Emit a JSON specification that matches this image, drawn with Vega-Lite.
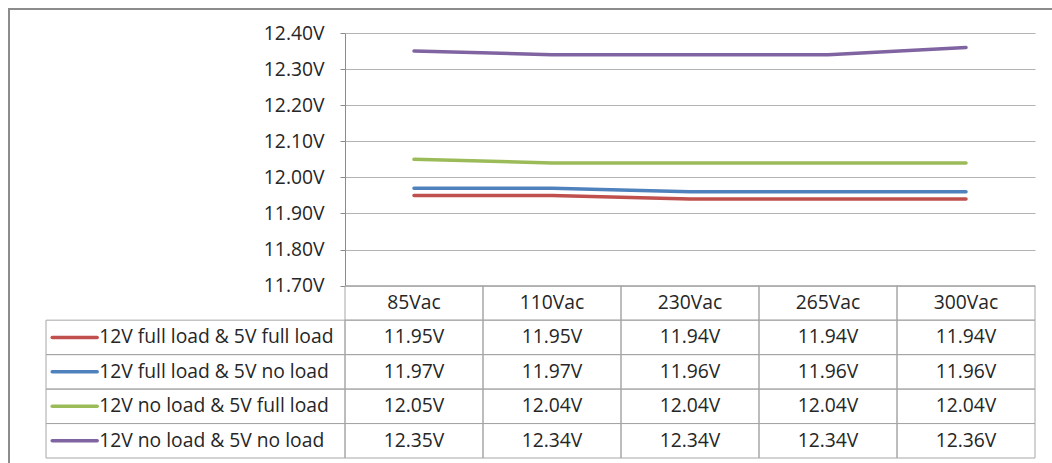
{
  "$schema": "https://vega.github.io/schema/vega-lite/v6.json",
  "width": 1080,
  "height": 480,
  "autosize": "none",
  "padding": {"left": 9, "top": 9, "right": 0, "bottom": 0},
  "background": "white",
  "config": {
    "view": {"stroke": "#8c8c8c", "strokeWidth": 2},
    "locale": {"number": {"decimal": ".", "thousands": ",", "grouping": [3], "currency": ["", "V"]}},
    "font": "Open Sans"
  },
  "datasets": {
    "d": [
      {"series": "12V full load & 5V full load", "vac": "85Vac", "v": 11.95},
      {"series": "12V full load & 5V full load", "vac": "110Vac", "v": 11.95},
      {"series": "12V full load & 5V full load", "vac": "230Vac", "v": 11.94},
      {"series": "12V full load & 5V full load", "vac": "265Vac", "v": 11.94},
      {"series": "12V full load & 5V full load", "vac": "300Vac", "v": 11.94},
      {"series": "12V full load & 5V no load", "vac": "85Vac", "v": 11.97},
      {"series": "12V full load & 5V no load", "vac": "110Vac", "v": 11.97},
      {"series": "12V full load & 5V no load", "vac": "230Vac", "v": 11.96},
      {"series": "12V full load & 5V no load", "vac": "265Vac", "v": 11.96},
      {"series": "12V full load & 5V no load", "vac": "300Vac", "v": 11.96},
      {"series": "12V no load & 5V full load", "vac": "85Vac", "v": 12.05},
      {"series": "12V no load & 5V full load", "vac": "110Vac", "v": 12.04},
      {"series": "12V no load & 5V full load", "vac": "230Vac", "v": 12.04},
      {"series": "12V no load & 5V full load", "vac": "265Vac", "v": 12.04},
      {"series": "12V no load & 5V full load", "vac": "300Vac", "v": 12.04},
      {"series": "12V no load & 5V no load", "vac": "85Vac", "v": 12.35},
      {"series": "12V no load & 5V no load", "vac": "110Vac", "v": 12.34},
      {"series": "12V no load & 5V no load", "vac": "230Vac", "v": 12.34},
      {"series": "12V no load & 5V no load", "vac": "265Vac", "v": 12.34},
      {"series": "12V no load & 5V no load", "vac": "300Vac", "v": 12.36}
    ]
  },
  "data": {"name": "d"},
  "resolve": {"scale": {"x": "independent", "y": "independent", "color": "shared"}},
  "layer": [
    {
      "mark": {"type": "line", "strokeWidth": 3.5, "strokeCap": "round", "strokeJoin": "round"},
      "encoding": {
        "x": {"field": "vac", "type": "nominal", "bandPosition": 0.5,
          "scale": {"type": "band", "domain": ["85Vac", "110Vac", "230Vac", "265Vac", "300Vac"], "range": [336, 1026], "paddingInner": 0, "paddingOuter": 0},
          "axis": null},
        "y": {"field": "v", "type": "quantitative",
          "scale": {"domain": [11.7, 12.4], "range": [276.7, 24], "nice": false, "zero": false},
          "axis": {"values": [11.7, 11.8, 11.9, 12.0, 12.1, 12.2, 12.3, 12.4], "format": "$.2f", "offset": -336,
            "labelFontSize": 19.3, "labelColor": "#262626", "labelFont": "Open Sans", "labelPadding": 16,
            "tickSize": 5, "tickColor": "#8c8c8c", "domainColor": "#8c8c8c", "gridColor": "#b3b3b3", "grid": true, "title": null}},
        "color": {"field": "series", "type": "nominal",
          "scale": {"domain": ["12V full load & 5V full load", "12V full load & 5V no load", "12V no load & 5V full load", "12V no load & 5V no load"], "range": ["#C0504D", "#4F81BD", "#9BBB59", "#8064A2"]},
          "legend": null}
      }
    },
    {
      "layer": [
        {
          "transform": [{"filter": "datum.series === '12V full load & 5V full load'"}],
          "mark": {"type": "rect", "fill": "white", "fillOpacity": 0, "stroke": "#a6a6a6", "strokeWidth": 1},
          "encoding": {
            "y": {"datum": "hdr", "type": "nominal"}
          }
        },
        {
          "mark": {"type": "rect", "fill": "white", "fillOpacity": 0, "stroke": "#a6a6a6", "strokeWidth": 1},
          "encoding": {
            "y": {"field": "series", "type": "nominal"}
          }
        },
        {
          "transform": [{"filter": "datum.series === '12V full load & 5V full load'"}],
          "mark": {"type": "text", "fontSize": 19.3, "color": "#262626"},
          "encoding": {
            "y": {"datum": "hdr", "type": "nominal"},
            "text": {"field": "vac"}
          }
        },
        {
          "mark": {"type": "text", "fontSize": 19.3, "color": "#262626"},
          "encoding": {
            "y": {"field": "series", "type": "nominal"},
            "text": {"field": "v", "type": "quantitative", "format": "$.2f"}
          }
        }
      ],
      "encoding": {
        "x": {"field": "vac", "type": "nominal",
          "scale": {"type": "band", "domain": ["85Vac", "110Vac", "230Vac", "265Vac", "300Vac"], "range": [336, 1026], "paddingInner": 0, "paddingOuter": 0},
          "axis": null},
        "y": {"type": "nominal",
          "scale": {"type": "band", "domain": ["hdr", "12V full load & 5V full load", "12V full load & 5V no load", "12V no load & 5V full load", "12V no load & 5V no load"], "range": [276.7, 449], "paddingInner": 0, "paddingOuter": 0},
          "axis": null}
      }
    },
    {
      "transform": [{"filter": "datum.vac === '85Vac'"}],
      "layer": [
        {
          "mark": {"type": "rect", "fill": "white", "fillOpacity": 0, "stroke": "#a6a6a6", "strokeWidth": 1},
          "encoding": {
            "x": {"datum": "legend", "type": "nominal"}
          }
        },
        {
          "mark": {"type": "point", "shape": "stroke", "size": 2025, "strokeWidth": 3.5, "filled": false, "opacity": 1, "strokeCap": "round"},
          "encoding": {
            "x": {"datum": "legend", "type": "nominal", "bandPosition": 0.096},
            "color": {"field": "series", "type": "nominal", "legend": null}
          }
        },
        {
          "mark": {"type": "text", "align": "left", "fontSize": 19.3, "color": "#262626"},
          "encoding": {
            "x": {"datum": "legend", "type": "nominal", "bandPosition": 0.178},
            "text": {"field": "series"}
          }
        }
      ],
      "encoding": {
        "x": {"type": "nominal",
          "scale": {"type": "band", "domain": ["legend"], "range": [37, 336], "paddingInner": 0, "paddingOuter": 0},
          "axis": null},
        "y": {"field": "series", "type": "nominal",
          "scale": {"type": "band", "domain": ["hdr", "12V full load & 5V full load", "12V full load & 5V no load", "12V no load & 5V full load", "12V no load & 5V no load"], "range": [276.7, 449], "paddingInner": 0, "paddingOuter": 0},
          "axis": null}
      }
    }
  ]
}
